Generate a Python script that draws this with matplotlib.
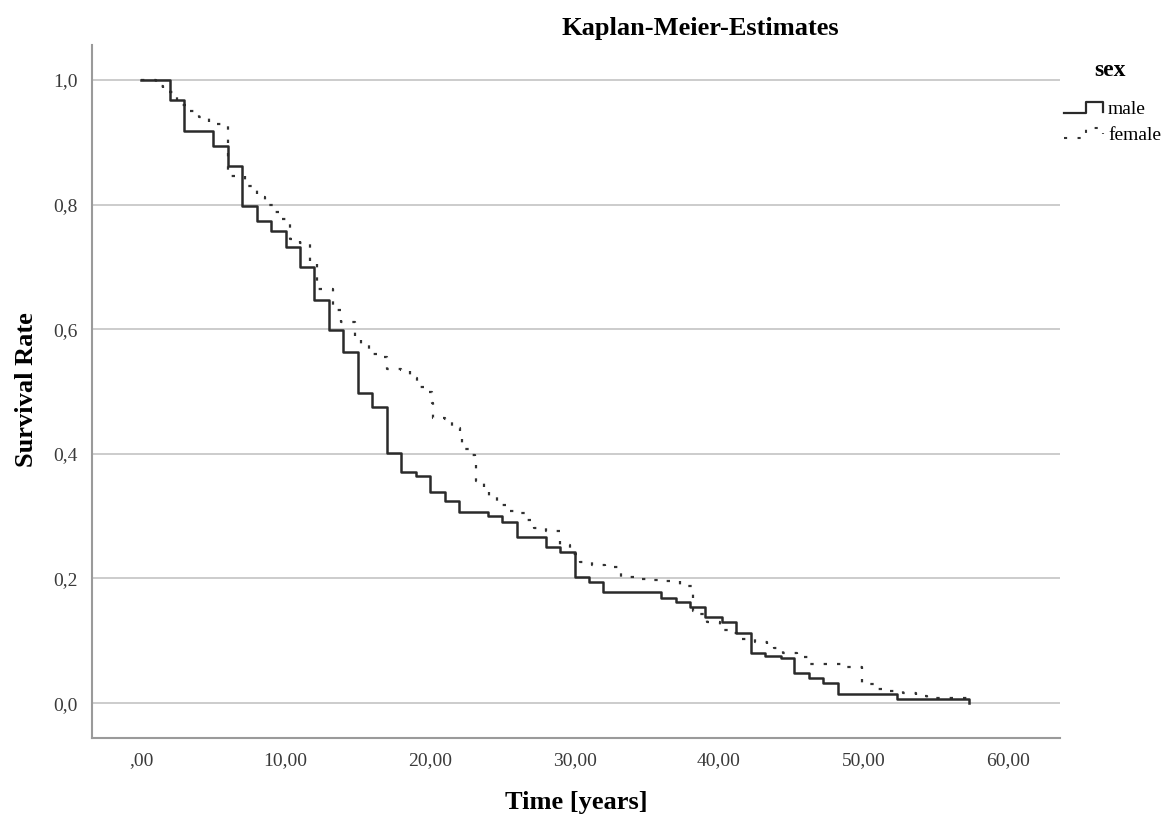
"""Kaplan-Meier survival estimates by sex (SPSS-style)."""

import matplotlib
matplotlib.use("Agg")
import matplotlib.pyplot as plt

# Male: event times (years) and survival after each step.
male_t = [0, 2, 3, 5, 6, 7, 8, 9, 10, 11, 12, 13, 14, 15, 16, 17, 18, 19, 20,
          21, 22, 24, 25, 26, 28, 29, 30, 31, 32, 36, 37, 38, 39, 40.2, 41.2,
          42.2, 43.2, 44.3, 45.2, 46.2, 47.2, 48.2, 52.3, 57.3]
male_s = [1.0, 0.968, 0.918, 0.894, 0.862, 0.798, 0.774, 0.758, 0.732, 0.700,
          0.647, 0.598, 0.563, 0.498, 0.475, 0.401, 0.371, 0.364, 0.339, 0.324,
          0.307, 0.300, 0.290, 0.267, 0.251, 0.242, 0.202, 0.194, 0.178, 0.168,
          0.162, 0.154, 0.138, 0.130, 0.112, 0.080, 0.075, 0.072, 0.048, 0.041,
          0.033, 0.015, 0.006, 0.0]

# Female: event times (years) and survival after each step.
fem_t = [0, 1.0, 1.5, 2.5, 3.3, 4.0, 4.7, 6.0, 7.2, 8.0, 8.6, 9.2, 9.7, 10.3,
         11.0, 11.7, 12.2, 13.3, 13.8, 14.8, 15.2, 15.8, 16.5, 17.0, 18.0, 18.6,
         19.1, 19.8, 20.1, 20.2, 21.0, 21.5, 22.1, 22.2, 22.7, 23.1, 23.2, 23.7,
         24.1, 24.6, 25.3, 26.0, 26.7, 27.2, 28.0, 29.0, 29.7, 30.4, 31.2, 32.1,
         33.2, 34.2, 35.2, 35.9, 37.3, 38.2, 38.7, 39.2, 40.1, 40.8, 41.6, 42.5,
         43.3, 43.8, 44.4, 45.4, 46.3, 47.2, 48.8, 49.9, 50.8, 51.7, 52.7, 53.6,
         54.4, 57.4]
fem_s = [1.0, 0.99, 0.98, 0.96, 0.95, 0.94, 0.93, 0.845, 0.83, 0.812, 0.80,
         0.788, 0.777, 0.745, 0.738, 0.708, 0.665, 0.63, 0.612, 0.588, 0.574,
         0.56, 0.555, 0.536, 0.534, 0.522, 0.507, 0.50, 0.482, 0.458, 0.456,
         0.441, 0.43, 0.408, 0.398, 0.382, 0.356, 0.343, 0.33, 0.318, 0.308,
         0.305, 0.294, 0.281, 0.276, 0.254, 0.24, 0.226, 0.222, 0.219, 0.202,
         0.199, 0.197, 0.196, 0.188, 0.148, 0.143, 0.13, 0.117, 0.112, 0.103,
         0.098, 0.093, 0.088, 0.080, 0.074, 0.063, 0.062, 0.058, 0.030, 0.022,
         0.019, 0.016, 0.011, 0.008, 0.005]

x_ticks = [0, 10, 20, 30, 40, 50, 60]
x_labels = [",00", "10,00", "20,00", "30,00", "40,00", "50,00", "60,00"]
y_ticks = [0.0, 0.2, 0.4, 0.6, 0.8, 1.0]
y_labels = ["0,0", "0,2", "0,4", "0,6", "0,8", "1,0"]

plt.rcParams["font.family"] = ["Liberation Serif", "DejaVu Serif"]

W, H = 1170, 817
fig = plt.figure(figsize=(W / 100, H / 100), dpi=100)
ax = fig.add_axes([92 / W, 1 - 738 / H, 968 / W, 693 / H])

for yv in y_ticks:
    ax.axhline(yv, color="#c8c8c8", lw=1.3, zorder=1)

ax.step(male_t, male_s, where="post", color="#2a2a2a", lw=1.8, zorder=3)
ax.step(fem_t, fem_s, where="post", color="#333333", lw=1.6,
        linestyle=(0, (1.5, 4.5)), zorder=2)

ax.set_xlim(-3.4, 63.6)
ax.set_ylim(-0.056, 1.056)
ax.set_xticks(x_ticks)
ax.set_xticklabels(x_labels)
ax.set_yticks(y_ticks)
ax.set_yticklabels(y_labels)
ax.tick_params(length=0, labelsize=14, labelcolor="#3a3a3a", pad=10)

for side in ("top", "right"):
    ax.spines[side].set_visible(False)
for side in ("left", "bottom"):
    ax.spines[side].set_color("#9a9a9a")
    ax.spines[side].set_linewidth(1.5)

fig.text(576 / W, 1 - 803 / H, "Time [years]", ha="center", va="center",
         fontsize=19, fontweight="bold")
fig.text(27 / W, 1 - 390 / H, "Survival Rate", ha="center", va="center",
         rotation=90, fontsize=19, fontweight="bold")
fig.text(700 / W, 1 - 29 / H, "Kaplan-Meier-Estimates", ha="center",
         va="center", fontsize=19, fontweight="bold")

# Legend drawn in a small pixel-space axes so the step glyph can be shown.
lg = fig.add_axes([1060 / W, 1 - 150 / H, 110 / W, 100 / H])
lg.set_xlim(1060, 1170)
lg.set_ylim(150, 50)
lg.axis("off")
lg.text(1110, 70, "sex", ha="center", va="center", fontsize=17,
        fontweight="bold")
lg.plot([1064, 1086, 1086, 1103, 1103], [113, 113, 102, 102, 112],
        color="#2a2a2a", lw=1.6)
lg.plot([1064, 1086, 1086, 1103, 1103], [138, 138, 128, 128, 134],
        color="#333333", lw=1.5, linestyle=(0, (1.5, 5)))
lg.text(1108, 110, "male", ha="left", va="center", fontsize=14)
lg.text(1108, 136, "female", ha="left", va="center", fontsize=14)

fig.savefig("out.png", dpi=100)
